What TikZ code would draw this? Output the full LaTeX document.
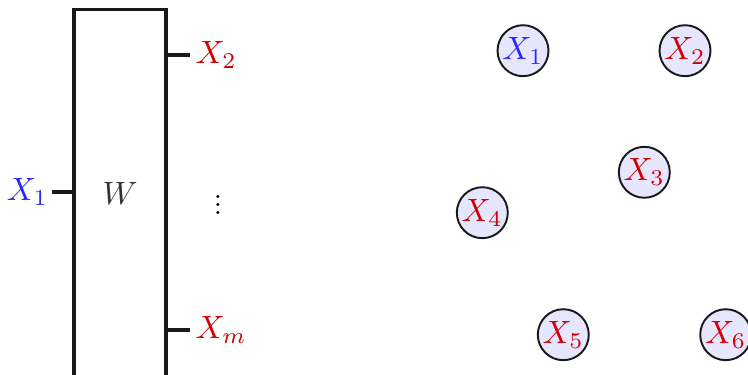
\documentclass[tikz,border=0pt]{standalone}
\usetikzlibrary{positioning}
\definecolor{myblue}{RGB}{40,40,255}
\definecolor{myred}{RGB}{210,0,0}
\definecolor{myfill}{RGB}{230,230,255}
\tikzset{
  var/.style={circle,draw=black!90,line width=0.6pt,fill=myfill,minimum size=15.8pt,inner sep=0pt},
  stub/.style={line width=1.1pt,black!90},
  box/.style={draw=black!90,line width=1.1pt}
}
\begin{document}
\begin{tikzpicture}[x=0.31pt,y=-0.31pt]
\useasboundingbox (0,0) rectangle (748,375);
% box
\coordinate (bl) at (74,385);
\coordinate (tr) at (166,9.5);
\draw[box] (bl) rectangle (tr);
\node[text=black!80] (W) at (120,193) {$W$};
% stubs
\coordinate (a1) at (52,192); \coordinate (a2) at (74,192);
\coordinate (b1) at (166,55); \coordinate (b2) at (190,55);
\coordinate (c1) at (166,330); \coordinate (c2) at (190,330);
\draw[stub] (a1) -- (a2);
\draw[stub] (b1) -- (b2);
\draw[stub] (c1) -- (c2);
\node[anchor=east,inner sep=1pt,text=myblue] (L1) at (a1) {$X_1$};
\node[anchor=west,inner sep=0pt,text=myred] (L2) at (195,55) {$X_2$};
\node[anchor=west,inner sep=0pt,text=myred] (Lm) at (195,330) {$X_m$};
\node[scale=0.6,font=\bfseries,text=black] (dots) at (218,199) {\vdots};
% graph nodes
\node[var,text=myblue] (n1) at (523,50.7) {$X_1$};
\node[var,text=myred] (n2) at (685,50.7) {$X_2$};
\node[var,text=myred] (n3) at (644.3,172.3) {$X_3$};
\node[var,text=myred] (n4) at (482.3,212.7) {$X_4$};
\node[var,text=myred] (n5) at (563.3,334.7) {$X_5$};
\node[var,text=myred] (n6) at (725.7,334.7) {$X_6$};
\end{tikzpicture}
\end{document}
